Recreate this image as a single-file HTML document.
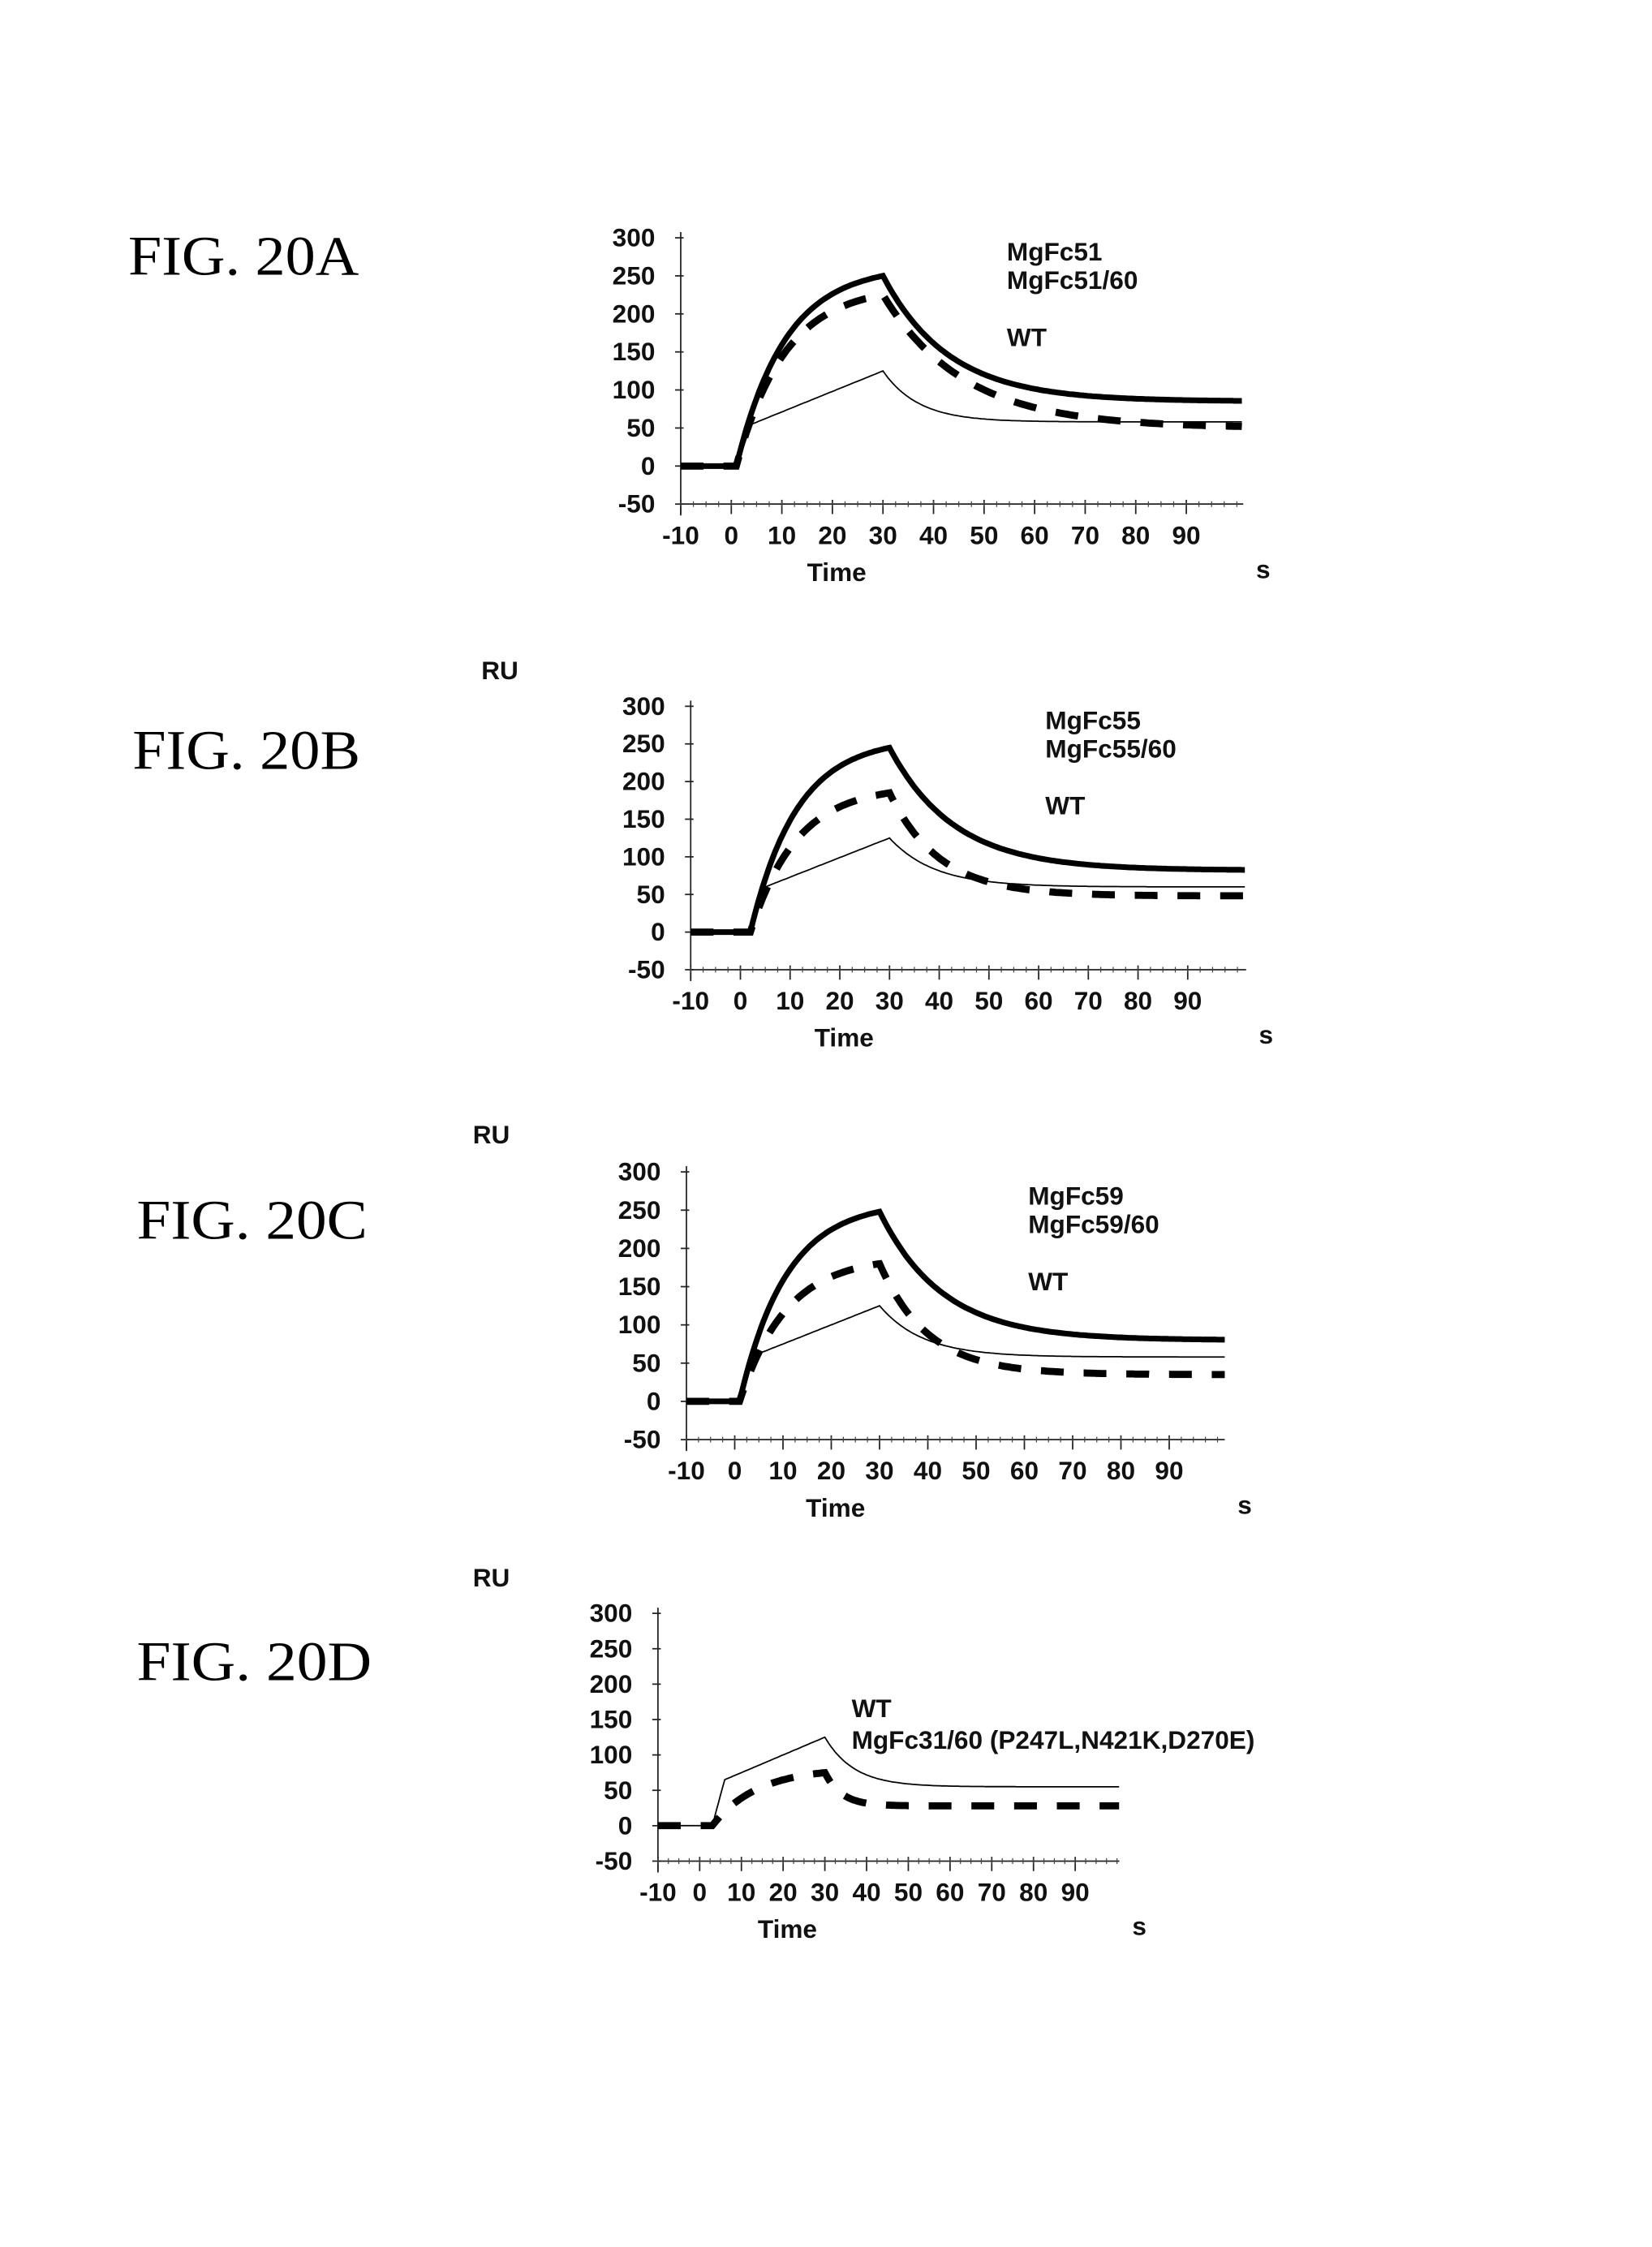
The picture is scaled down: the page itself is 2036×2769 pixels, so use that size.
<!DOCTYPE html>
<html><head><meta charset="utf-8">
<style>
html,body{margin:0;padding:0;background:#fff;}
svg{display:block;}
.fig{font-family:"Liberation Serif",serif;font-size:39px;fill:#000;}
.t{font-family:"Liberation Sans",sans-serif;font-size:18px;font-weight:bold;fill:#111;}
</style></head>
<body>
<svg id="s" width="2036" height="2769" viewBox="0 0 1160 1578" preserveAspectRatio="none" xmlns="http://www.w3.org/2000/svg">
<rect width="1160" height="1578" fill="#fff"/>
<text class="fig" x="90" y="193" textLength="162" lengthAdjust="spacingAndGlyphs">FIG. 20A</text>
<text class="fig" x="93" y="540" textLength="160" lengthAdjust="spacingAndGlyphs">FIG. 20B</text>
<text class="fig" x="96" y="870" textLength="162" lengthAdjust="spacingAndGlyphs">FIG. 20C</text>
<text class="fig" x="96" y="1180" textLength="165" lengthAdjust="spacingAndGlyphs">FIG. 20D</text>
<text class="t" x="338" y="477">RU</text>
<text class="t" x="332" y="803">RU</text>
<text class="t" x="332" y="1114">RU</text>
<g id="g"></g>
</svg>
<script>
var NS="http://www.w3.org/2000/svg",G=document.getElementById('g');
function el(n,a,txt){var e=document.createElementNS(NS,n);for(var k in a)e.setAttribute(k,a[k]);if(txt!==undefined)e.textContent=txt;G.appendChild(e);return e;}
function chart(c){
 var sx=(c.X90-c.X0)/100,sy=(c.Ym50-c.Y300)/350;
 function X(t){return c.X0+(t+10)*sx;} function Y(v){return c.Ym50-(v+50)*sy;}
 el('line',{x1:c.X0,y1:c.Y300-4,x2:c.X0,y2:c.Ym50+8,stroke:'#222','stroke-width':1});
 el('line',{x1:c.X0,y1:c.Ym50,x2:c.xend,y2:c.Ym50,stroke:'#222','stroke-width':1});
 for(var v=-50;v<=300;v+=50){el('line',{x1:c.X0-4,y1:Y(v),x2:c.X0+2,y2:Y(v),stroke:'#222','stroke-width':1});
  el('text',{'class':'t',x:c.X0-18,y:Y(v)+6,'text-anchor':'end'},String(v));}
 for(var t=-10;t<=90;t+=10){el('line',{x1:X(t),y1:c.Ym50-3,x2:X(t),y2:c.Ym50+7,stroke:'#222','stroke-width':1});
  el('text',{'class':'t',x:X(t),y:c.Ym50+28,'text-anchor':'middle'},String(t));}
 for(var t=-10;t<=100;t+=2.5){el('line',{x1:X(t),y1:c.Ym50-2,x2:X(t),y2:c.Ym50+2,stroke:'#444','stroke-width':0.7});}
 el('text',{'class':'t',x:(X(10)+X(30))/2+3,y:c.Ym50+54,'text-anchor':'middle'},'Time');
 el('text',{'class':'t',x:c.xend+14,y:c.Ym50+52,'text-anchor':'middle'},'s');
 c.leg.forEach(function(l){el('text',{'class':'t',x:l[0],y:l[1]},l[2]);});
 var tend=(c.xend-c.X0)/sx-10;
 function curve(s){var d='';for(var t=-10;t<=tend;t+=0.5){var v;
   if(t<s.t0)v=0;else if(t<=30){var u=(t-s.t0)/(30-s.t0);
     if(s.wt){v=(t-s.t0<3)?s.k*(t-s.t0)/3:s.k+(s.pk-s.k)*(t-s.t0-3)/(30-s.t0-3);}
     else v=s.pk*(1-Math.exp(-u*s.r))/(1-Math.exp(-s.r));}
   else v=s.inf+(s.pk-s.inf)*Math.exp(-(t-30)/s.tau);
   d+=(d?'L':'M')+X(t).toFixed(1)+' '+Y(v).toFixed(1);}return d;}
 c.series.forEach(function(s){var a={d:curve(s),fill:'none',stroke:'#000','stroke-width':s.w};
  if(s.dash)a['stroke-dasharray']=s.dash; el('path',a);});
}
var A=[
{X0:478,X90:833,Y300:167,Ym50:354,xend:873,leg:[[707,183,'MgFc51'],[707,203,'MgFc51/60'],[707,243,'WT']],
 series:[{t0:1,pk:250,r:3,inf:85,tau:13,w:4},{t0:1,pk:225,r:3,inf:50,tau:16,w:5,dash:'16 14'},{t0:1,pk:125,k:55,wt:1,inf:58,tau:7,w:1}]},
{X0:485,X90:834,Y300:496,Ym50:681,xend:875,leg:[[734,512,'MgFc55'],[734,532,'MgFc55/60'],[734,572,'WT']],
 series:[{t0:2,pk:245,r:3,inf:82,tau:13,w:4},{t0:2,pk:185,r:3,inf:48,tau:10,w:5,dash:'16 14'},{t0:2,pk:125,k:60,wt:1,inf:60,tau:9,w:1}]},
{X0:482,X90:821,Y300:823,Ym50:1011,xend:860,leg:[[722,846,'MgFc59'],[722,866,'MgFc59/60'],[722,906,'WT']],
 series:[{t0:1,pk:248,r:3,inf:80,tau:13,w:4},{t0:1,pk:180,r:3,inf:35,tau:10,w:5,dash:'16 14'},{t0:1,pk:125,k:60,wt:1,inf:58,tau:9,w:1}]},
{X0:462,X90:755,Y300:1133,Ym50:1307,xend:786,leg:[[598,1206,'WT'],[598,1228,'MgFc31/60 (P247L,N421K,D270E)']],
 series:[{t0:3,pk:75,r:2.5,inf:28,tau:4,w:5,dash:'16 14'},{t0:3,pk:125,k:65,wt:1,inf:55,tau:7,w:1}]}
];
A.forEach(chart);
</script>
</body></html>
